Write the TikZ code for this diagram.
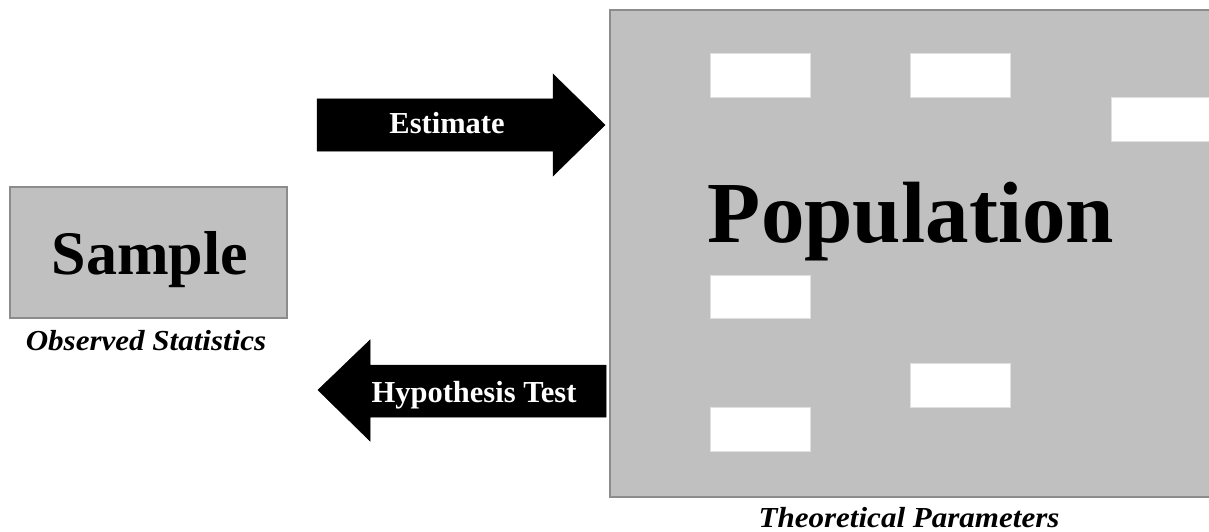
\documentclass[tikz,border=0pt]{standalone}
\usepackage{fontspec}
\setmainfont{Liberation Serif}
\definecolor{boxgray}{HTML}{C0C0C0}
\definecolor{edgegray}{HTML}{8C8C8C}
\definecolor{holeedge}{HTML}{E0E0E0}
\newcommand{\widetext}[1]{\scalebox{1.07}[1]{#1}}
\begin{document}
\begin{tikzpicture}[x=1pt,y=-1pt,
  graybox/.style={fill=boxgray,draw=edgegray,line width=1.2pt},
  hole/.style={fill=white,draw=holeedge,line width=0.8pt},
  blockarrow/.style={fill=black,draw=black,line width=0.5pt},
  arrowtext/.style={text=white,font=\bfseries\fontsize{30.5}{34}\selectfont,anchor=base,inner sep=0pt},
  caption/.style={font=\bfseries\itshape\fontsize{29}{32}\selectfont,anchor=base,inner sep=0pt}]
\useasboundingbox (0,0) rectangle (1209,532);
% Sample box
\path[graybox] (10,187) rectangle (287,318);
\coordinate (sampleC) at (150,274);
\node[font=\bfseries\fontsize{62}{72}\selectfont,anchor=base,inner sep=0pt] (sample) at (sampleC) {Sample};
\node[caption] (obs) at (146,350) {\widetext{Observed Statistics}};
% Population box
\fill[boxgray] (610,10) rectangle (1209,497);
\draw[edgegray,line width=1.2pt] (1209,10) -- (610,10) -- (610,497) -- (1209,497);
\path[hole] (710,53) rectangle (810,97);
\path[hole] (910,53) rectangle (1010,97);
\path[hole] (1111,97) rectangle (1212,141);
\path[hole] (710,275) rectangle (810,318);
\path[hole] (910,363) rectangle (1010,407);
\path[hole] (710,407) rectangle (810,451);
\node[font=\bfseries\fontsize{87}{100}\selectfont,anchor=base,inner sep=0pt] (pop) at (911,242) {Population};
\node[caption] (theo) at (909,527) {\widetext{Theoretical Parameters}};
% Estimate arrow
\path[blockarrow] (317,99) -- (553,99) -- (553,74) -- (605,125) -- (553,176) -- (553,151) -- (317,151) -- cycle;
\node[arrowtext] (est) at (447,133) {Estimate};
% Hypothesis test arrow
\path[blockarrow] (606,365) -- (370,365) -- (370,340) -- (318,390) -- (370,441) -- (370,417) -- (606,417) -- cycle;
\node[arrowtext] (hyp) at (474,402) {Hypothesis Test};
\end{tikzpicture}
\end{document}
